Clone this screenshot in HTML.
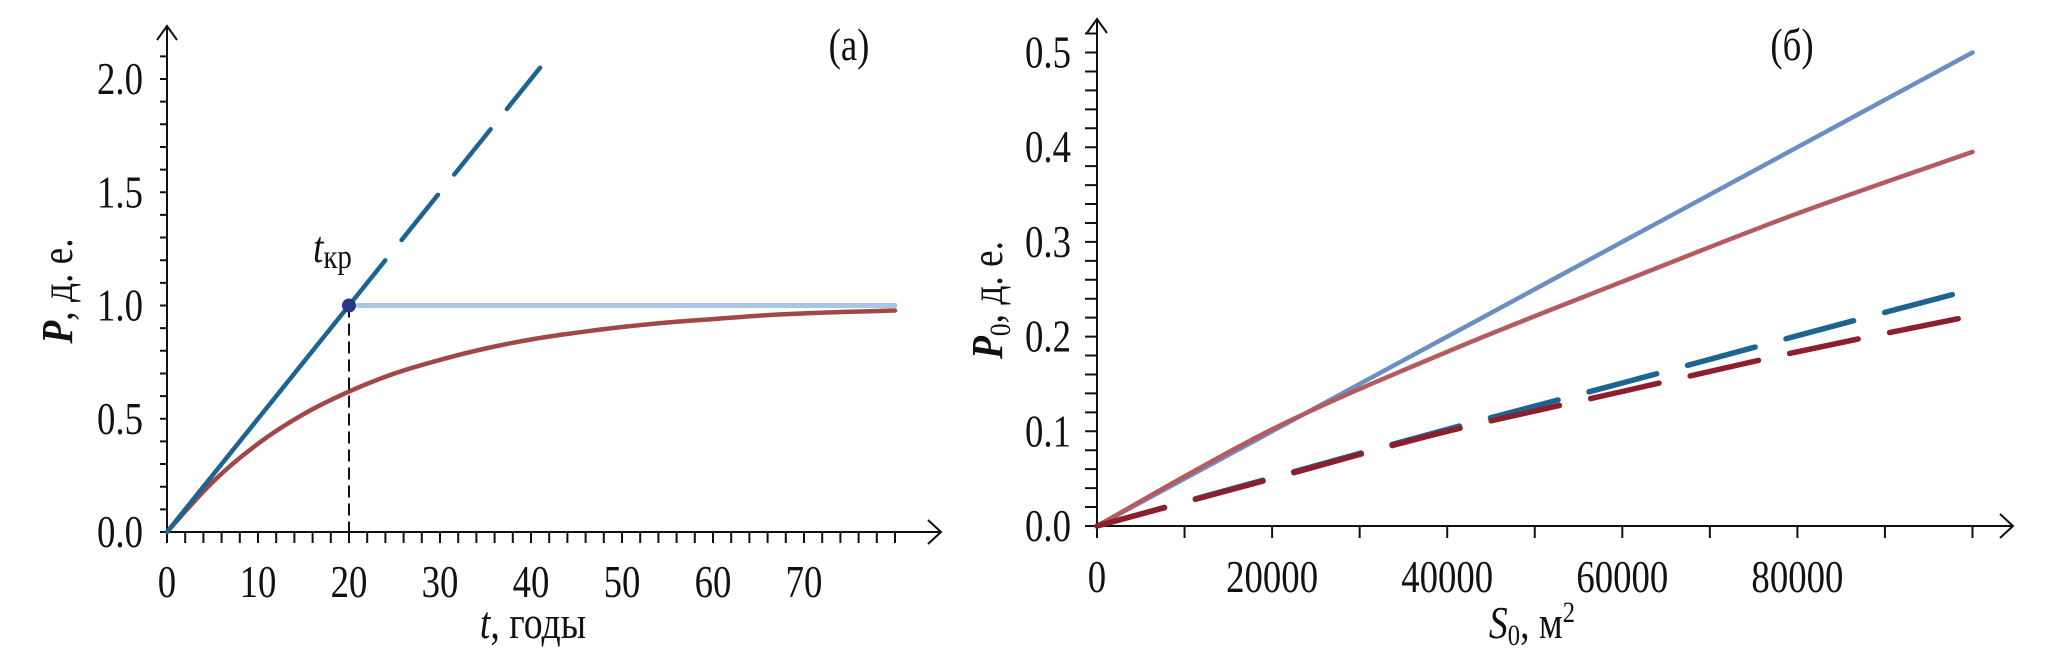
<!DOCTYPE html>
<html><head><meta charset="utf-8"><style>
html,body{margin:0;padding:0;background:#fff;}
svg{display:block;}
text{font-family:"Liberation Serif","DejaVu Serif",serif;fill:#111;}
</style></head><body>
<svg id="s" width="2064" height="649" viewBox="0 0 2064 649">
<g id="ga"></g>
<g id="gb"></g>
</svg>
<script>
// Chart (a) data
const tA = [0,5,10,15,20,25,30,35,40,45,50,55,60,65,70,75,80];
const pRedA = [0,0.22,0.39,0.52,0.62,0.70,0.76,0.81,0.85,0.88,0.905,0.925,0.94,0.955,0.965,0.972,0.978];
const tBlueSolid = [0,20];
const pBlueSolid = [0,1.0];
const tBlueDash = [20,41];
const pBlueDash = [1.0,2.05];
const tFlat = [21,80];
const pFlat = [1.0,1.0];
const tCrit = 20, pCrit = 1.0;
const xTicksA = [0,10,20,30,40,50,60,70];
const yTicksA = [0.0,0.5,1.0,1.5,2.0];
// Chart (b) data
const sB = [0,20000,40000,60000,80000,100000];
const pBlueB = [0,0.10,0.20,0.30,0.40,0.50];
const pRedB = [0,0.102,0.184,0.258,0.330,0.395];
const pBlueDashB = [0,0.051,0.102,0.151,0.201,0.25];
const pRedDashB = [0,0.050,0.100,0.142,0.184,0.222];
const xTicksB = [0,20000,40000,60000,80000];
const yTicksB = [0.0,0.1,0.2,0.3,0.4,0.5];

const NS='http://www.w3.org/2000/svg';
function mk(p,tag,at){const e=document.createElementNS(NS,tag);for(const k in at)e.setAttribute(k,at[k]);p.appendChild(e);return e;}
function smooth(pts){
  let d='M'+pts[0][0].toFixed(1)+' '+pts[0][1].toFixed(1);
  for(let i=0;i<pts.length-1;i++){
    const p0=pts[Math.max(i-1,0)],p1=pts[i],p2=pts[i+1],p3=pts[Math.min(i+2,pts.length-1)];
    const c1x=p1[0]+(p2[0]-p0[0])/6,c1y=p1[1]+(p2[1]-p0[1])/6;
    const c2x=p2[0]-(p3[0]-p1[0])/6,c2y=p2[1]-(p3[1]-p1[1])/6;
    d+=` C${c1x.toFixed(1)} ${c1y.toFixed(1)} ${c2x.toFixed(1)} ${c2y.toFixed(1)} ${p2[0].toFixed(1)} ${p2[1].toFixed(1)}`;
  }
  return d;
}
function label(g,x,y,str,anchor,name){
  const e=mk(g,'text',{x:0,y:0,'text-anchor':anchor,'font-size':46,transform:`translate(${x},${y}) scale(0.8,1)`});
  e.textContent=str;
  
  
  return e;
}

// axes (a)
const ax=v=>167+v*9.1, ay=v=>532-v*226.5;
const ga=document.getElementById('ga');
function lineA(xs,ys,color,w,dash,name){
  const e=mk(ga,'path',{d:smooth(xs.map((x,i)=>[ax(x),ay(ys[i])])),fill:'none',stroke:color,'stroke-width':w,'stroke-linecap':'round'});
  if(dash)e.setAttribute('stroke-dasharray',dash);
  
  
}
let e;
e=mk(ga,'path',{d:`M167 532 L940 532 M928 520 L941 532 L928 544 M167 532 L167 26 M157 40 L167 26 L177 40`,stroke:'#111','stroke-width':2,fill:'none'});

let tk='';
for(let t=0;t<=80;t+=2){tk+=`M${ax(t)} 532 L${ax(t)} 543 `;}
for(let i=0;i<=21;i++){const v=i/10;tk+=`M167 ${ay(v)} L160 ${ay(v)} `;}
e=mk(ga,'path',{d:tk,stroke:'#111','stroke-width':2});

xTicksA.forEach(v=>label(ga,ax(v),597,String(v),'middle','x-tick-label'));
yTicksA.forEach(v=>label(ga,143,ay(v)+15,v.toFixed(1),'end','y-tick-label'));
lineA(tFlat,pFlat,'#a9c6e6',5,null,'flat-line');
lineA(tA,pRedA,'#a04848',4.5,null,'red-curve');
lineA(tBlueSolid,pBlueSolid,'#1d6590',4.5,null,'blue-solid-line');
lineA(tBlueDash,pBlueDash,'#1d6590',4.5,'58 26','blue-dashed-line');
e=mk(ga,'line',{x1:ax(tCrit),y1:ay(pCrit),x2:ax(tCrit),y2:532,stroke:'#111','stroke-width':2,'stroke-dasharray':'12 6'});

e=mk(ga,'circle',{cx:ax(tCrit),cy:ay(pCrit),r:7,fill:'#27378a'});

e=mk(ga,'text',{x:0,y:0,'font-size':44,'font-style':'italic',transform:'translate(313,262) scale(0.85,1)'});e.innerHTML='t<tspan font-style="normal" font-size="34" dy="6">кр</tspan>';

e=mk(ga,'text',{x:0,y:0,'text-anchor':'middle','font-size':46,transform:'translate(849,60) scale(0.8,1)'});e.textContent='(a)';

e=mk(ga,'text',{x:0,y:0,'text-anchor':'middle','font-size':46,transform:'translate(533,638) scale(0.82,1)'});e.innerHTML='<tspan font-style="italic">t</tspan>, годы';

e=mk(ga,'text',{x:0,y:0,'text-anchor':'middle','font-size':44,transform:'translate(72,291) rotate(-90) scale(0.85,1)'});e.innerHTML='<tspan font-style="italic" font-weight="bold">P</tspan>, д. е.';


// axes (b)
const bx=v=>1097+v*0.008755, by=v=>526-v*947;
const gb=document.getElementById('gb');
function lineB(xs,ys,color,w,dash,name){
  const e=mk(gb,'path',{d:smooth(xs.map((x,i)=>[bx(x),by(ys[i])])),fill:'none',stroke:color,'stroke-width':w,'stroke-linecap':'round'});
  if(dash)e.setAttribute('stroke-dasharray',dash);
  
  
}
e=mk(gb,'path',{d:`M1097 526 L2012 526 M2000 514 L2013 526 L2000 538 M1097 526 L1097 19 M1087 33 L1097 19 L1107 33`,stroke:'#111','stroke-width':2,fill:'none'});

tk='';
for(let s=0;s<=100000;s+=10000){tk+=`M${bx(s)} 526 L${bx(s)} 538 `;}
for(let i=0;i<=26;i++){const v=i*0.02;tk+=`M1097 ${by(v)} L1085 ${by(v)} `;}
e=mk(gb,'path',{d:tk,stroke:'#111','stroke-width':2});

xTicksB.forEach(v=>label(gb,bx(v),592,String(v),'middle','x-tick-label'));
yTicksB.forEach(v=>label(gb,1071,by(v)+15,v.toFixed(1),'end','y-tick-label'));
lineB(sB,pBlueB,'#6b8fc2',4.5,null,'blue-solid-line-b');
lineB(sB,pRedB,'#b55a5e',4.5,null,'red-solid-line-b');
lineB(sB,pBlueDashB,'#1d6590',5.5,'70 32','blue-dashed-line-b');
lineB(sB,pRedDashB,'#8e1e2c',5.5,'70 32','red-dashed-line-b');
e=mk(gb,'text',{x:0,y:0,'text-anchor':'middle','font-size':46,transform:'translate(1792,60) scale(0.8,1)'});e.textContent='(б)';

e=mk(gb,'text',{x:0,y:0,'text-anchor':'middle','font-size':46,transform:'translate(1532,638) scale(0.82,1)'});e.innerHTML='<tspan font-style="italic">S</tspan><tspan font-size="30" dy="7">0</tspan><tspan dy="-7">, м</tspan><tspan font-size="30" dy="-16">2</tspan>';

e=mk(gb,'text',{x:0,y:0,'text-anchor':'middle','font-size':44,transform:'translate(1002,300) rotate(-90) scale(0.85,1)'});e.innerHTML='<tspan font-style="italic" font-weight="bold">P</tspan><tspan font-size="30" dy="8">0</tspan><tspan dy="-8">, д. е.</tspan>';

</script>
</body></html>
